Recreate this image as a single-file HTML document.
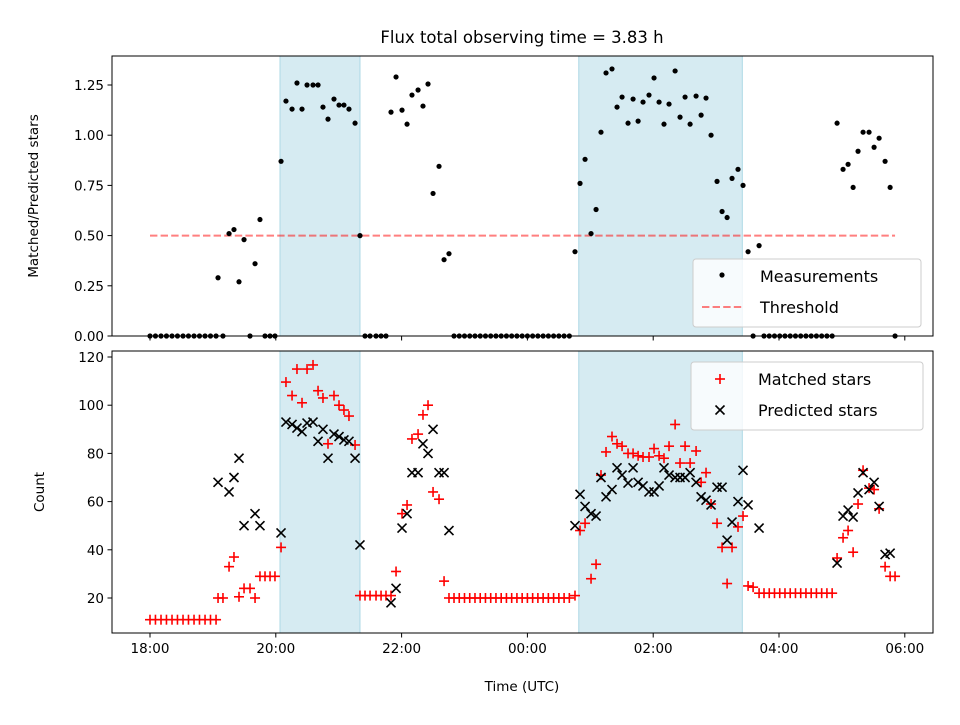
<!DOCTYPE html>
<html><head><meta charset="utf-8"><style>
body{margin:0;background:#fff;font-family:"Liberation Sans","DejaVu Sans",sans-serif}
svg text{font-family:"DejaVu Sans","Liberation Sans",sans-serif;fill:#000}
</style></head><body>
<svg id="c" width="960" height="720" xmlns="http://www.w3.org/2000/svg"></svg>
<script>
// minutes after 18:00 UTC
const times=[0,5.2,10.5,15.7,21,26.2,31.5,36.7,42,47.2,52.5,57.7,63,
64.9,69.6,75.4,80.1,84.9,89.7,95.4,100.2,104.9,109.7,114.5,119.2,125,129.7,135.5,140.2,145,149.8,155.5,160.3,165,169.8,175.5,180.3,185,189.8,195.6,200.3,205.1,209.9,215.6,220.4,225.1,229.9,234.7,240.4,245.2,249.9,255.7,260.4,265.2,270,275.7,280.5,285.2,
290,295,300,305,310,315,320,325,330,335,340,345,350,355,360,365,370,375,380,385,390,395,400,
405.4,410.2,415,420.7,425.5,430.2,435,440.7,445.5,450.3,456,460.8,465.6,470.3,476,480.8,485.6,490.3,495.1,500.9,505.6,510.4,515.2,520.9,525.7,530.4,535.2,540.9,545.7,550.5,555.2,560.9,565.7,570.5,575.3,581,
585.7,590.7,595.7,600.7,605.7,610.7,615.7,620.7,625.7,630.7,635.7,640.7,645.7,650.7,
655.4,661.1,665.9,670.7,675.4,680.2,685.9,690.7,695.5,701.2,706,710.7];
const ratio=[0,0,0,0,0,0,0,0,0,0,0,0,0,
0.29,0,0.51,0.53,0.27,0.48,0,0.36,0.58,0,0,0,0.87,1.17,1.13,1.26,1.13,1.25,1.25,1.25,1.14,1.08,1.18,1.15,1.15,1.13,1.06,0.5,0,0,0,0,0,1.115,1.29,1.125,1.055,1.2,1.225,1.145,1.255,0.71,0.845,0.38,0.41,
0,0,0,0,0,0,0,0,0,0,0,0,0,0,0,0,0,0,0,0,0,0,0,
0.42,0.76,0.88,0.51,0.63,1.015,1.31,1.33,1.14,1.19,1.06,1.18,1.07,1.165,1.2,1.285,1.165,1.055,1.155,1.32,1.09,1.19,1.055,1.195,1.1,1.185,1.0,0.77,0.62,0.59,0.785,0.83,0.75,0.42,0,0.45,
0,0,0,0,0,0,0,0,0,0,0,0,0,0,
1.06,0.83,0.855,0.74,0.92,1.015,1.015,0.94,0.985,0.87,0.74,0];
const matched=[11,11,11,11,11,11,11,11,11,11,11,11,11,
20,20,33,37,20.5,24,24,20,29,29,29,29,41,109.6,104,115,101,115,116.7,106,103,84,104,100,98,95.5,83.5,21,21,21,21,21,21,21,31,55,58.6,86,88,96,100,64,61,27,20,
20,20,20,20,20,20,20,20,20,20,20,20,20,20,20,20,20,20,20,20,20,20,20,
21,48,51,28,34,71,80.6,87,84,83,80,80,79,78.5,78.5,82,79,78,83,92,76,83,76,81,68,72,59,51,41,26,41,49.5,54,25,24.5,22,
22,22,22,22,22,22,22,22,22,22,22,22,22,22,
36.6,45,48,39,59,73,65.6,65,57,33,29,29];
const predicted=[null,null,null,null,null,null,null,null,null,null,null,null,null,
68,null,64,70,78,50,null,55,50,null,null,null,47,93,92,90.5,89,92.6,93,85,90,78,88,87,85.6,85,78,42,null,null,null,null,null,18,24,49,55,72,72,84,80,90,72,72,48,
null,null,null,null,null,null,null,null,null,null,null,null,null,null,null,null,null,null,null,null,null,null,null,
50,63,58,55,54,70,62,65,74,71,67.7,74,68,66.5,64,64,66.5,74,71,70,70,70,72,68,62,60.6,58.6,66,66,44,51.5,60,73,58.6,null,49,
null,null,null,null,null,null,null,null,null,null,null,null,null,null,
34.5,54,56.5,53.6,63.6,72,65,68,58,38,38.6,null];
const spans=[[124,200.3],[409,565]];
const threshold=0.5, thrRange=[0,710.7];
const xTicks=[0,120,240,360,480,600,720];
const xTickLabels=["18:00","20:00","22:00","00:00","02:00","04:00","06:00"];
const topTicks=[0,0.25,0.5,0.75,1.0,1.25];
const botTicks=[20,40,60,80,100,120];

const NS="http://www.w3.org/2000/svg",svg=document.getElementById('c');
function el(t,a,p){const e=document.createElementNS(NS,t);for(const k in a)e.setAttribute(k,a[k]);(p||svg).appendChild(e);return e;}
const L=112,R=933;
const X=m=>150+(m)*(125.8/120);
const T={top:56,bot:336,y:v=>336-v*200.8};
const B={top:351,bot:633,y:v=>598-(v-20)*2.41};

[T,B].forEach((ax,i)=>{
  spans.forEach(s=>{const r=el('rect',{x:X(s[0]),y:ax.top,width:X(s[1])-X(s[0]),height:ax.bot-ax.top,fill:'#add8e6','fill-opacity':0.5,stroke:'#add8e6'});
  
  });
});
// threshold
const th=el('line',{x1:X(thrRange[0]),x2:X(thrRange[1]),y1:T.y(threshold),y2:T.y(threshold),stroke:'#ff0000','stroke-opacity':0.5,'stroke-width':2,'stroke-dasharray':'7.4,3.2'});


// top points
times.forEach((t,i)=>{const v=ratio[i];if(v==null)return;const x=X(t),y=T.y(v);if(y<T.top)return;
  const c=el('circle',{cx:x,cy:y,r:2.6,fill:'#000'});
  
  });
// bottom
function plus(x,y){const g=el('g',{stroke:'#ff0000','stroke-width':1.6});el('line',{x1:x-5,x2:x+5,y1:y,y2:y},g);el('line',{x1:x,x2:x,y1:y-5,y2:y+5},g);return g;}
function cross(x,y){const g=el('g',{stroke:'#000','stroke-width':1.6});el('line',{x1:x-4.5,x2:x+4.5,y1:y-4.5,y2:y+4.5},g);el('line',{x1:x-4.5,x2:x+4.5,y1:y+4.5,y2:y-4.5},g);return g;}
times.forEach((t,i)=>{const v=matched[i];if(v==null)return;const g=plus(X(t),B.y(v));
  
  });
times.forEach((t,i)=>{const v=predicted[i];if(v==null)return;const g=cross(X(t),B.y(v));
  
  });
// frames & ticks
[T,B].forEach((ax,i)=>{
  const f=el('rect',{x:L,y:ax.top,width:R-L,height:ax.bot-ax.top,fill:'none',stroke:'#000','stroke-width':1});
  
  
  xTicks.forEach((m,j)=>{el('line',{x1:X(m),x2:X(m),y1:ax.bot,y2:ax.bot+4.5,stroke:'#000'});
    if(i==1){const t=el('text',{x:X(m),y:ax.bot+20,'text-anchor':'middle','font-size':13.5});t.textContent=xTickLabels[j];
    
    }});
  (i?botTicks:topTicks).forEach(v=>{const y=ax.y(v);el('line',{x1:L-4.5,x2:L,y1:y,y2:y,stroke:'#000'});
    const t=el('text',{x:L-8,y:y+5,'text-anchor':'end','font-size':13.5});t.textContent=i?String(v):v.toFixed(2);
    
    });
});
function txt(s,a,name){const t=el('text',a);t.textContent=s;return t;}
txt('Flux total observing time = 3.83 h',{x:522,y:43,'text-anchor':'middle','font-size':16.5},'chart-title');
txt('Matched/Predicted stars',{x:38,y:196,'text-anchor':'middle','font-size':13.5,transform:'rotate(-90 38 196)'},'ratio-y-axis-title');
txt('Count',{x:44,y:492,'text-anchor':'middle','font-size':13.5,transform:'rotate(-90 44 492)'},'count-y-axis-title');
txt('Time (UTC)',{x:522,y:691,'text-anchor':'middle','font-size':13.5},'x-axis-title');
// legends
const lg1=el('g',{});
el('rect',{x:693,y:259,width:228,height:68,rx:3,fill:'#fff','fill-opacity':0.8,stroke:'#ccc'},lg1);
el('circle',{cx:722,cy:275,r:2.6,fill:'#000'},lg1);
el('line',{x1:702,x2:742,y1:307,y2:307,stroke:'#ff0000','stroke-opacity':0.5,'stroke-width':2,'stroke-dasharray':'7.4,3.2'},lg1);
txt('Measurements',{x:760,y:282,'font-size':16},'legend-measurements');
txt('Threshold',{x:760,y:313,'font-size':16},'legend-threshold');
const lg2=el('g',{});
el('rect',{x:691,y:362,width:232,height:68,rx:3,fill:'#fff','fill-opacity':0.8,stroke:'#ccc'},lg2);
lg2.appendChild(plus(720,379));lg2.appendChild(cross(720,410));
txt('Matched stars',{x:758,y:385,'font-size':16},'legend-matched');
txt('Predicted stars',{x:758,y:416,'font-size':16},'legend-predicted');
</script>
</body></html>
